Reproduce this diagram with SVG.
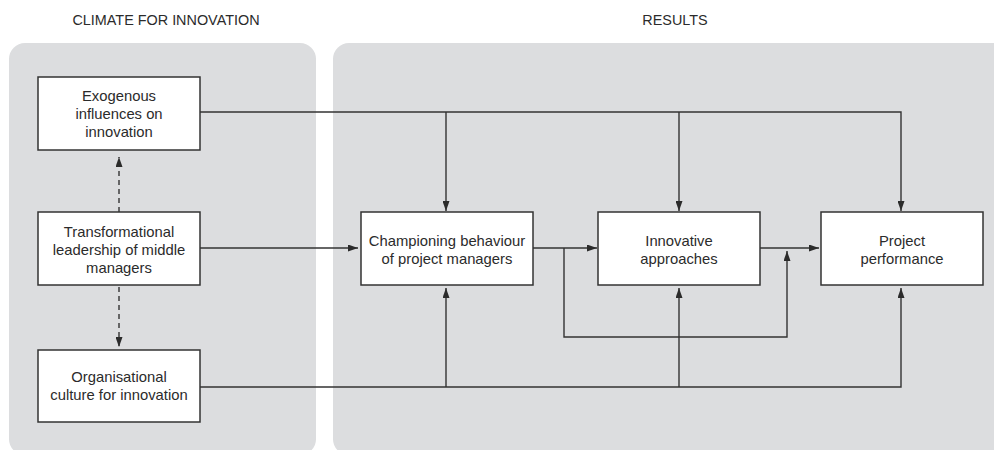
<svg xmlns="http://www.w3.org/2000/svg" width="994" height="450" viewBox="0 0 994 450">
  <style>
    .panel { fill: #dcdddf; }
    .box { fill: #ffffff; stroke: #333333; stroke-width: 1.5; }
    .title { font-family: "Liberation Sans", Arial, sans-serif; font-size: 14.4px; fill: #2b2b2b; text-anchor: middle; }
    .label { font-family: "Liberation Sans", Arial, sans-serif; font-size: 14.8px; fill: #2b2b2b; text-anchor: middle; }
    .wire { fill: none; stroke: #333333; stroke-width: 1.4; }
    .dash { stroke-dasharray: 5 4; }
  </style>
  <defs>
    <marker id="arrow" viewBox="0 0 10 7" refX="10" refY="3.5" markerWidth="10" markerHeight="7" markerUnits="userSpaceOnUse" orient="auto">
      <path d="M0,0 L10,3.5 L0,7 z" fill="#2b2b2b"/>
    </marker>
  </defs>

  <rect width="994" height="450" fill="#ffffff"/>

  <!-- Background panels -->
  <rect class="panel" x="9" y="43" width="307" height="412" rx="16"/>
  <rect class="panel" x="333" y="43" width="680" height="412" rx="16"/>
  <text class="title" x="166" y="25">CLIMATE FOR INNOVATION</text>
  <text class="title" x="675" y="25">RESULTS</text>

  <!-- Connectors -->
  <g id="connectors">
    <path class="wire dash" d="M119,212 V157" marker-end="url(#arrow)"/>
    <path class="wire dash" d="M119,287 V347" marker-end="url(#arrow)"/>
    <path class="wire" d="M200,248 H358" marker-end="url(#arrow)"/>
    <path class="wire" d="M200,112 H901 V211" marker-end="url(#arrow)"/>
    <path class="wire" d="M446,112 V211" marker-end="url(#arrow)"/>
    <path class="wire" d="M679,112 V211" marker-end="url(#arrow)"/>
    <path class="wire" d="M533,248 H597" marker-end="url(#arrow)"/>
    <path class="wire" d="M564,248 V337 H787 V251" marker-end="url(#arrow)"/>
    <path class="wire" d="M760,248 H819" marker-end="url(#arrow)"/>
    <path class="wire" d="M200,387 H901 V288" marker-end="url(#arrow)"/>
    <path class="wire" d="M446,387 V288" marker-end="url(#arrow)"/>
    <path class="wire" d="M679,387 V288" marker-end="url(#arrow)"/>
  </g>

  <!-- Nodes -->
  <g id="exogenous">
    <rect class="box" x="38" y="77" width="162" height="73"/>
    <text class="label" x="119" y="101">Exogenous</text>
    <text class="label" x="119" y="119">influences on</text>
    <text class="label" x="119" y="137">innovation</text>
  </g>
  <g id="transformational">
    <rect class="box" x="38" y="212" width="162" height="73"/>
    <text class="label" x="119" y="237">Transformational</text>
    <text class="label" x="119" y="255">leadership of middle</text>
    <text class="label" x="119" y="273">managers</text>
  </g>
  <g id="organisational">
    <rect class="box" x="38" y="350" width="162" height="72"/>
    <text class="label" x="119" y="382">Organisational</text>
    <text class="label" x="119" y="400">culture for innovation</text>
  </g>
  <g id="championing">
    <rect class="box" x="361" y="212" width="172" height="73"/>
    <text class="label" x="447" y="246">Championing behaviour</text>
    <text class="label" x="447" y="264">of project managers</text>
  </g>
  <g id="innovative">
    <rect class="box" x="598" y="212" width="162" height="73"/>
    <text class="label" x="679" y="246">Innovative</text>
    <text class="label" x="679" y="264">approaches</text>
  </g>
  <g id="performance">
    <rect class="box" x="821" y="212" width="162" height="73"/>
    <text class="label" x="902" y="246">Project</text>
    <text class="label" x="902" y="264">performance</text>
  </g>
</svg>
